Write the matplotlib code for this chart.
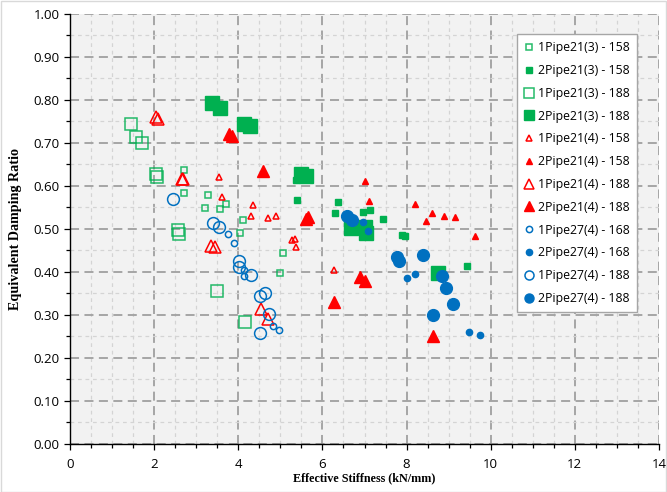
import numpy as np
import matplotlib
matplotlib.use("Agg")
import matplotlib.pyplot as plt
from matplotlib.ticker import MultipleLocator
from matplotlib.patches import Rectangle

# --- data ---
p21_3_158_1_x = [2.70, 2.70, 3.29, 3.22, 3.57, 3.71, 4.10, 4.04, 5.06, 4.98]
p21_3_158_1_y = [0.636, 0.583, 0.578, 0.549, 0.547, 0.559, 0.521, 0.491, 0.445, 0.398]
p21_3_158_2_x = [5.36, 5.39, 6.37, 6.29, 6.96, 7.13, 7.43, 7.89, 7.96, 9.43]
p21_3_158_2_y = [0.614, 0.567, 0.563, 0.538, 0.540, 0.543, 0.523, 0.487, 0.484, 0.414]
p21_3_188_1_x = [1.45, 1.56, 1.71, 2.04, 2.07, 2.56, 2.59, 3.49, 4.17]
p21_3_188_1_y = [0.743, 0.714, 0.699, 0.629, 0.622, 0.498, 0.488, 0.356, 0.283]
p21_3_188_2_x = [3.38, 3.57, 4.14, 4.28, 5.49, 5.61, 6.67, 7.02, 7.03, 8.74]
p21_3_188_2_y = [0.792, 0.781, 0.743, 0.740, 0.627, 0.623, 0.503, 0.505, 0.490, 0.398]

p21_4_158_1_x = [3.55, 3.61, 4.36, 4.29, 4.71, 4.89, 5.28, 5.34, 5.36, 6.28]
p21_4_158_1_y = [0.622, 0.574, 0.555, 0.530, 0.526, 0.530, 0.474, 0.476, 0.458, 0.405]
p21_4_158_2_x = [7.02, 7.11, 8.20, 8.60, 8.46, 8.90, 9.15, 9.63]
p21_4_158_2_y = [0.611, 0.566, 0.558, 0.536, 0.519, 0.530, 0.528, 0.484]
p21_4_188_1_x = [2.04, 2.08, 2.65, 2.69, 3.35, 3.45, 4.53, 4.70]
p21_4_188_1_y = [0.761, 0.756, 0.616, 0.616, 0.460, 0.459, 0.313, 0.290]
p21_4_188_2_x = [3.78, 3.86, 4.58, 5.60, 5.66, 6.28, 6.89, 7.01, 8.62]
p21_4_188_2_y = [0.720, 0.716, 0.635, 0.524, 0.528, 0.330, 0.389, 0.380, 0.252]

p27_4_168_1_x = [3.75, 3.89, 4.14, 4.14, 4.82, 4.96]
p27_4_168_1_y = [0.488, 0.467, 0.404, 0.390, 0.275, 0.264]
p27_4_168_2_x = [6.97, 7.08, 8.01, 8.19, 9.48, 9.74]
p27_4_168_2_y = [0.516, 0.495, 0.385, 0.395, 0.261, 0.253]
p27_4_188_1_x = [2.44, 3.39, 3.53, 4.02, 4.01, 4.31, 4.52, 4.64, 4.72, 4.52]
p27_4_188_1_y = [0.570, 0.513, 0.504, 0.426, 0.411, 0.392, 0.345, 0.350, 0.302, 0.258]
p27_4_188_2_x = [6.58, 6.70, 7.77, 7.81, 8.40, 8.84, 8.94, 9.10, 8.62]
p27_4_188_2_y = [0.531, 0.521, 0.434, 0.425, 0.440, 0.391, 0.363, 0.326, 0.301]

GREEN = "#00B050"
RED = "#FF0000"
BLUE = "#0070C0"

series = [
    ("1Pipe21(3) - 158", p21_3_158_1_x, p21_3_158_1_y, "s", 4.5, GREEN, False),
    ("2Pipe21(3) - 158", p21_3_158_2_x, p21_3_158_2_y, "s", 4.5, GREEN, True),
    ("1Pipe21(3) - 188", p21_3_188_1_x, p21_3_188_1_y, "s", 9, GREEN, False),
    ("2Pipe21(3) - 188", p21_3_188_2_x, p21_3_188_2_y, "s", 10, GREEN, True),
    ("1Pipe21(4) - 158", p21_4_158_1_x, p21_4_158_1_y, "^", 5, RED, False),
    ("2Pipe21(4) - 158", p21_4_158_2_x, p21_4_158_2_y, "^", 5, RED, True),
    ("1Pipe21(4) - 188", p21_4_188_1_x, p21_4_188_1_y, "^", 9, RED, False),
    ("2Pipe21(4) - 188", p21_4_188_2_x, p21_4_188_2_y, "^", 9, RED, True),
    ("1Pipe27(4) - 168", p27_4_168_1_x, p27_4_168_1_y, "o", 4.5, BLUE, False),
    ("2Pipe27(4) - 168", p27_4_168_2_x, p27_4_168_2_y, "o", 4.5, BLUE, True),
    ("1Pipe27(4) - 188", p27_4_188_1_x, p27_4_188_1_y, "o", 8.5, BLUE, False),
    ("2Pipe27(4) - 188", p27_4_188_2_x, p27_4_188_2_y, "o", 8.5, BLUE, True),
]

plt.rcParams['font.family'] = ['Open Sans', 'DejaVu Sans']

fig = plt.figure(figsize=(6.67, 4.92), dpi=100)
ax = fig.add_axes([0.105, 0.0976, 0.883, 0.874])
ax.set_facecolor("#F2F2F2")

for name, xs, ys, mk, ms, col, filled in series:
    if filled:
        ax.plot(xs, ys, linestyle="none", marker=mk, markersize=ms,
                markerfacecolor=col, markeredgecolor=col, label=name, zorder=3)
    else:
        ax.plot(xs, ys, linestyle="none", marker=mk, markersize=ms,
                markerfacecolor="none", markeredgecolor=col, markeredgewidth=1.1,
                alpha=0.85 if col == GREEN else 1.0, label=name, zorder=3)

ax.set_xlim(0, 14)
ax.set_ylim(0, 1.0)
ax.xaxis.set_major_locator(MultipleLocator(2))
ax.xaxis.set_minor_locator(MultipleLocator(0.5))
ax.yaxis.set_major_locator(MultipleLocator(0.1))
ax.yaxis.set_minor_locator(MultipleLocator(0.05))
ax.yaxis.set_major_formatter(plt.FuncFormatter(lambda v, p: f"{v:.2f}"))

ax.grid(which="major", color="#A0A0A0", linestyle=(0, (5, 3)), linewidth=1.3, zorder=0)
ax.grid(which="minor", color="#D4D4D4", linestyle=(0, (3, 3)), linewidth=0.9, zorder=0)
ax.set_axisbelow(True)

for s in ["top", "right"]:
    ax.spines[s].set_visible(False)
for s in ["left", "bottom"]:
    ax.spines[s].set_color("black")
    ax.spines[s].set_linewidth(1.0)

ax.tick_params(which="major", direction="out", length=4, width=0.9, labelsize=9.5, colors="black")
ax.tick_params(which="minor", direction="out", length=3, width=0.9)
ax.tick_params(axis="x", pad=6)

ax.set_xlabel("Effective Stiffness (kN/mm)", fontsize=8.7, fontweight="bold",
              family="Liberation Serif", labelpad=1)
ax.set_ylabel("Equivalent Damping Ratio", fontsize=10.2, fontweight="bold",
              family="Liberation Serif", labelpad=8)

leg = ax.legend(loc="upper right", bbox_to_anchor=(0.963, 0.9535), borderaxespad=0,
                fontsize=8.8, frameon=True, fancybox=False, edgecolor="#A6A6A6",
                framealpha=1, labelspacing=0.8, handlelength=0.8, handletextpad=0.35,
                borderpad=0.6, numpoints=1)
leg.get_frame().set_linewidth(1.0)
# legend shows the big markers a bit smaller than in the plot
for h in leg.legend_handles:
    h.set_markersize(min(h.get_markersize(), 6.5))

fig.patches.append(Rectangle((0.001, 0.001), 0.997, 0.997, transform=fig.transFigure,
                             fill=False, edgecolor="#D9D9D9", linewidth=1.0))

fig.savefig("out.png", dpi=100)
